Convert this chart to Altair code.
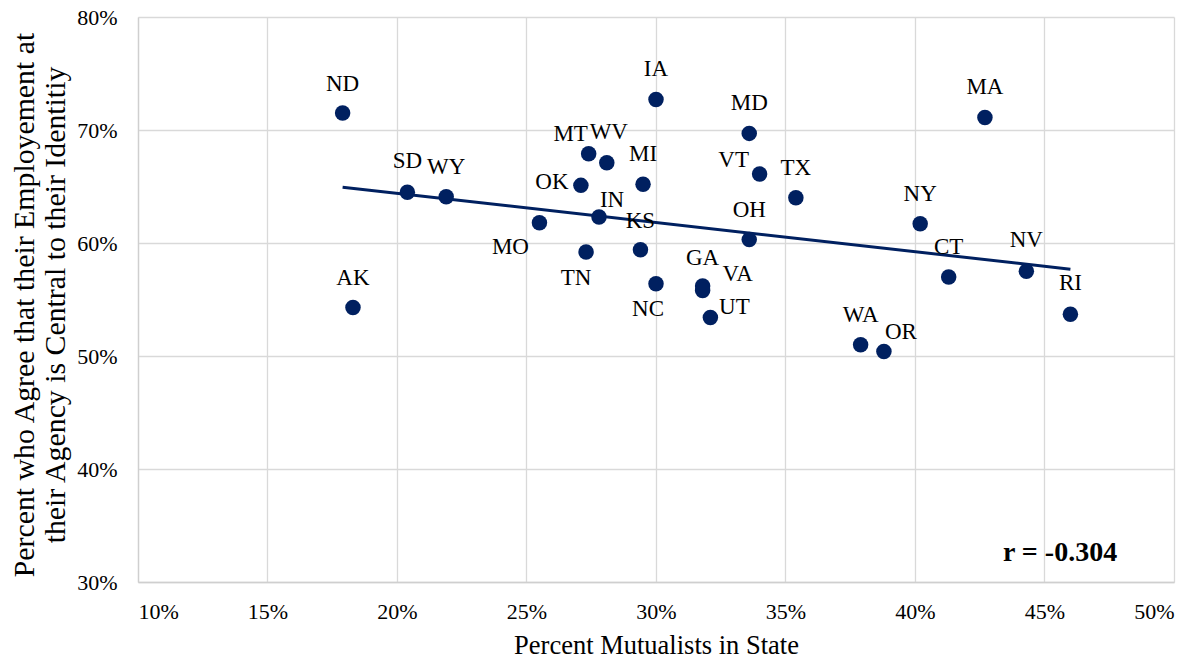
import altair as alt
import pandas as pd

# ---- data ----
states = ["ND", "AK", "SD", "WY", "MO", "TN", "OK", "MT", "WV", "IN",
          "MI", "KS", "IA", "NC", "GA", "VA", "UT", "MD", "VT", "OH",
          "TX", "WA", "OR", "NY", "CT", "MA", "NV", "RI"]
mutualists = [0.179, 0.183, 0.204, 0.219, 0.255, 0.273, 0.271, 0.274, 0.281, 0.278,
              0.295, 0.294, 0.300, 0.300, 0.318, 0.318, 0.321, 0.336, 0.340, 0.336,
              0.354, 0.379, 0.388, 0.402, 0.413, 0.427, 0.443, 0.460]
agree = [0.715, 0.543, 0.645, 0.641, 0.618, 0.592, 0.651, 0.679, 0.671, 0.623,
         0.652, 0.594, 0.727, 0.564, 0.562, 0.558, 0.534, 0.697, 0.661, 0.603,
         0.640, 0.510, 0.504, 0.617, 0.570, 0.711, 0.575, 0.537]

x_ticks = [0.10, 0.15, 0.20, 0.25, 0.30, 0.35, 0.40, 0.45, 0.50]
y_ticks = [0.30, 0.40, 0.50, 0.60, 0.70, 0.80]

x_title = "Percent Mutualists in State"
y_title = ["Percent who Agree that their  Employement at",
           "their Agency is Central to their Identitiy"]
r_text = "r = -0.304"
r_pos = {"x": 0.456, "y": 0.326}

# ---- style ----
NAVY = "#002060"
FONT = "Liberation Serif"
W, H = 1036, 565
LABEL_SIZE = 23
LABEL_DEFAULT = (0, -30)
LABEL_NUDGE = {
    "ND": (0, -29), "AK": (0, -29), "SD": (0, -31), "MO": (-29, 24), "TN": (-10, 26),
    "OK": (-29, -3), "MT": (-18, -20), "WV": (2, -31), "VT": (-26, -14),
    "IN": (13, -17), "KS": (0, -29), "NC": (-8, 25), "GA": (0, -28),
    "VA": (35, -16), "UT": (24, -11), "OR": (17, -19), "MA": (0, -31),
    "NV": (0, -31), "RI": (0, -31),
}

df = pd.DataFrame({"state": states, "x": mutualists, "y": agree})

xs = alt.Scale(domain=[0.1, 0.5], nice=False, zero=False)
ys = alt.Scale(domain=[0.3, 0.8], nice=False, zero=False)

axis_common = dict(labelFont=FONT, labelFontSize=22, labelColor="#000000",
                   titleFont=FONT, titleFontWeight="normal", titleColor="#000000",
                   ticks=False, tickSize=0, grid=True, gridColor="#d9d9d9", gridWidth=1.3,
                   domainColor="#cfcfcf", domainWidth=1.3)

x_enc = alt.X("x:Q", scale=xs, title=x_title,
              axis=alt.Axis(values=x_ticks, format=".0%", labelPadding=19,
                            titleY=71, titleBaseline="alphabetic", titleFontSize=26.5,
                            **axis_common))
y_enc = alt.Y("y:Q", scale=ys, title=y_title,
              axis=alt.Axis(values=y_ticks, format=".0%", labelPadding=21,
                            titleAngle=270, titleAlign="center", titleBaseline="middle",
                            titleX=-114, titleY=H / 2 + 5, titleLineHeight=31,
                            titleFontSize=29.8, **axis_common))

base = alt.Chart(df)

points = base.mark_circle(size=240, color=NAVY, opacity=1).encode(x=x_enc, y=y_enc)

trend = base.transform_regression("x", "y").mark_line(
    color=NAVY, strokeWidth=3).encode(x=alt.X("x:Q", scale=xs), y=alt.Y("y:Q", scale=ys))

special = list(LABEL_NUDGE.keys())
label_layers = []
default_labels = base.transform_filter(
    {"not": alt.FieldOneOfPredicate(field="state", oneOf=special)}
).mark_text(font=FONT, fontSize=LABEL_SIZE, color="#000000", align="center", baseline="middle",
            dx=LABEL_DEFAULT[0], dy=LABEL_DEFAULT[1]).encode(
    x=alt.X("x:Q", scale=xs), y=alt.Y("y:Q", scale=ys), text="state:N")
label_layers.append(default_labels)
for s, (dx, dy) in LABEL_NUDGE.items():
    label_layers.append(
        base.transform_filter(alt.datum.state == s).mark_text(
            font=FONT, fontSize=LABEL_SIZE, color="#000000", align="center", baseline="middle",
            dx=dx, dy=dy).encode(
            x=alt.X("x:Q", scale=xs), y=alt.Y("y:Q", scale=ys), text="state:N")
    )

r_df = pd.DataFrame([{"x": r_pos["x"], "y": r_pos["y"], "t": r_text}])
r_label = alt.Chart(r_df).mark_text(font=FONT, fontSize=28, fontWeight="bold",
                                    color="#000000", align="center", baseline="middle").encode(
    x=alt.X("x:Q", scale=xs), y=alt.Y("y:Q", scale=ys), text="t:N")

chart = alt.layer(trend, points, *label_layers, r_label).properties(
    width=W, height=H,
    autosize=alt.AutoSizeParams(type="none"),
    padding={"left": 130, "top": 9, "right": 12, "bottom": 80},
    background="#ffffff",
).configure(font=FONT).configure_view(stroke=None).configure_axis(
    labelFont=FONT, titleFont=FONT,
)

chart.save("out.html", embed_options={"renderer": "svg", "actions": False})
